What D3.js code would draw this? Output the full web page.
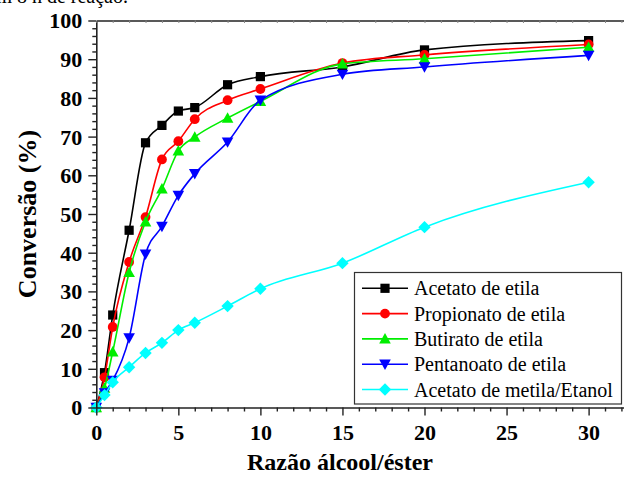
<!DOCTYPE html>
<html>
<head>
<meta charset="utf-8">
<script src="https://cdn.jsdelivr.net/npm/d3@7"></script>
<style>
  html, body { margin: 0; padding: 0; background: #fff; }
  svg { display: block; }
</style>
</head>
<body>
<svg id="chart" width="624" height="477"></svg>
<script>
// Razão molar álcool/éster
const ratios = [0, 0.5, 1, 2, 3, 4, 5, 6, 8, 10, 15, 20, 30];

// Conversão (%) de cada sistema
const acetatoEtila     = [0, 9.0, 23.9, 45.8, 68.4, 72.9, 76.6, 77.5, 83.4, 85.5, 88.0, 92.4, 94.8];
const propionatoEtila  = [0, 7.8, 20.8, 37.6, 49.2, 64.1, 68.8, 74.5, 79.4, 82.3, 89.0, 91.1, 93.8];
const butiratoEtila    = [0, 5.0, 14.4, 34.9, 48.0, 56.5, 66.3, 69.9, 74.8, 79.1, 88.8, 90.1, 93.1];
const pentanoatoEtila  = [0, 3.8, 7.0, 18.0, 39.6, 46.8, 54.8, 60.4, 68.6, 79.4, 86.1, 88.0, 91.0];
const acetatoMetilaEt  = [0, 3.2, 6.5, 10.4, 14.1, 16.7, 20.0, 21.9, 26.2, 30.7, 37.3, 46.6, 58.2];

const seriesNames = ["Acetato de etila", "Propionato de etila", "Butirato de etila",
                     "Pentanoato de etila", "Acetato de metila/Etanol"];
const seriesValues = [acetatoEtila, propionatoEtila, butiratoEtila, pentanoatoEtila, acetatoMetilaEt];
const seriesColors = ["#000000", "#ff0000", "#00ee00", "#0000ff", "#00ffff"];
const seriesMarkers = ["square", "circle", "triangleUp", "triangleDown", "diamond"];

const xMajorTicks = [0, 5, 10, 15, 20, 25, 30];
const yMajorTicks = [0, 10, 20, 30, 40, 50, 60, 70, 80, 90, 100];

const xTitle = "Razão álcool/éster";
const yTitle = "Conversão (%)";
const captionTail = "em 8 h de reação.";

const SERIF = "'Liberation Serif', 'Times New Roman', Times, serif";

const svg = d3.select("#chart");
const plotLeft = 96.3, plotTop = 20.5, plotBottom = 407.5, pxPerUnit = 16.41;
const xMax = 32.3;

const x = d3.scaleLinear().domain([0, xMax]).range([plotLeft, plotLeft + xMax * pxPerUnit]);
const y = d3.scaleLinear().domain([0, 100]).range([plotBottom, plotTop]);

// last line of the surrounding paragraph, cut by the frame
svg.append("text")
  .attr("x", 128).attr("y", 2.7).attr("text-anchor", "end")
  .style("font-family", SERIF).style("font-size", "20px")
  .attr("fill", "#000").text(captionTail);

// marker shapes
function markerPath(kind) {
  const p = d3.path();
  if (kind === "square") { const h = 4.6; p.rect(-h, -h, 2 * h, 2 * h); }
  else if (kind === "circle") { p.arc(0, 0, 4.9, 0, 2 * Math.PI); }
  else if (kind === "triangleUp") { const s = 5.8; p.moveTo(0, -s); p.lineTo(s, s * 0.8); p.lineTo(-s, s * 0.8); p.closePath(); }
  else if (kind === "triangleDown") { const s = 5.8; p.moveTo(0, s); p.lineTo(s, -s * 0.8); p.lineTo(-s, -s * 0.8); p.closePath(); }
  else if (kind === "diamond") { const s = 6.2; p.moveTo(0, -s); p.lineTo(s, 0); p.lineTo(0, s); p.lineTo(-s, 0); p.closePath(); }
  return p.toString();
}

const line = d3.line()
  .x(d => x(d[0])).y(d => y(d[1]))
  .curve(d3.curveMonotoneX);

const plot = svg.append("g");
seriesValues.forEach((vals, i) => {
  const pts = ratios.map((r, j) => [r, vals[j]]);
  const g = plot.append("g");
  g.append("path").datum(pts)
    .attr("d", line).attr("fill", "none")
    .attr("stroke", seriesColors[i]).attr("stroke-width", 1.6);
  g.selectAll("path.mk").data(pts).join("path").attr("class", "mk")
    .attr("d", markerPath(seriesMarkers[i]))
    .attr("transform", d => `translate(${x(d[0])},${y(d[1])})`)
    .attr("fill", seriesColors[i]);
});

// axes
const axisColor = "#222";
const yMinor = d3.range(0, 101, 2).filter(v => v % 10 !== 0);
const xMinor = d3.range(0, 33, 1).filter(v => v % 5 !== 0);

function styleAxis(g) {
  g.selectAll("path.domain").attr("stroke", axisColor).attr("stroke-width", 1.6);
  g.selectAll(".tick line").attr("stroke", axisColor).attr("stroke-width", 1.4);
}
function styleLabels(g) {
  g.attr("font-family", null).attr("font-size", null);
  g.selectAll("text")
    .style("font-family", SERIF).style("font-size", "22px")
    .style("font-weight", "bold").attr("fill", "#000");
}

// left
svg.append("g").attr("transform", `translate(${plotLeft},0)`)
  .call(d3.axisLeft(y).tickValues(yMinor).tickSize(4).tickFormat("").tickSizeOuter(0))
  .call(styleAxis).call(g => g.select(".domain").remove());
svg.append("g").attr("transform", `translate(${plotLeft},0)`)
  .call(d3.axisLeft(y).tickValues(yMajorTicks).tickSize(8).tickSizeOuter(0).tickPadding(6))
  .call(styleAxis).call(styleLabels)
  .call(g => g.selectAll("text").attr("dy", "0.34em"));

// bottom
svg.append("g").attr("transform", `translate(0,${plotBottom})`)
  .call(d3.axisBottom(x).tickValues(xMinor).tickSize(4).tickFormat("").tickSizeOuter(0))
  .call(styleAxis).call(g => g.select(".domain").remove());
svg.append("g").attr("transform", `translate(0,${plotBottom})`)
  .call(d3.axisBottom(x).tickValues(xMajorTicks).tickSize(8).tickSizeOuter(0).tickPadding(9))
  .call(styleAxis).call(styleLabels);

// top mirror
svg.append("g").attr("transform", `translate(0,${plotTop})`)
  .call(d3.axisTop(x).tickValues(d3.range(0, 33, 1)).tickSize(-2.5).tickFormat("").tickSizeOuter(0))
  .call(styleAxis)
  .call(g => g.selectAll(".tick line").attr("stroke", "#888").attr("stroke-width", 1));

// right border
svg.append("line")
  .attr("x1", x(xMax)).attr("x2", x(xMax)).attr("y1", plotTop).attr("y2", plotBottom)
  .attr("stroke", axisColor).attr("stroke-width", 1.6);

// titles
svg.append("text")
  .attr("x", 340).attr("y", 470).attr("text-anchor", "middle")
  .style("font-family", SERIF).style("font-size", "24px").style("font-weight", "bold")
  .text(xTitle);
svg.append("text")
  .attr("transform", `translate(36,${(plotTop + plotBottom) / 2}) rotate(-90)`)
  .attr("text-anchor", "middle")
  .style("font-family", SERIF).style("font-size", "26px").style("font-weight", "bold")
  .text(yTitle);

// legend
const lg = svg.append("g");
lg.append("rect").attr("x", 354.5).attr("y", 272.5).attr("width", 267).attr("height", 131.5)
  .attr("fill", "#fff").attr("stroke", "#333").attr("stroke-width", 1.2);
seriesNames.forEach((name, i) => {
  const cy = 288.3 + i * 25.3;
  lg.append("line").attr("x1", 362).attr("x2", 408).attr("y1", cy).attr("y2", cy)
    .attr("stroke", seriesColors[i]).attr("stroke-width", 1.6);
  lg.append("path").attr("d", markerPath(seriesMarkers[i]))
    .attr("transform", `translate(385,${cy})`).attr("fill", seriesColors[i]);
  lg.append("text")
    .attr("x", 414).attr("y", cy + 7)
    .style("font-family", SERIF).style("font-size", "20px")
    .attr("fill", "#000").text(name);
});
</script>
</body>
</html>
